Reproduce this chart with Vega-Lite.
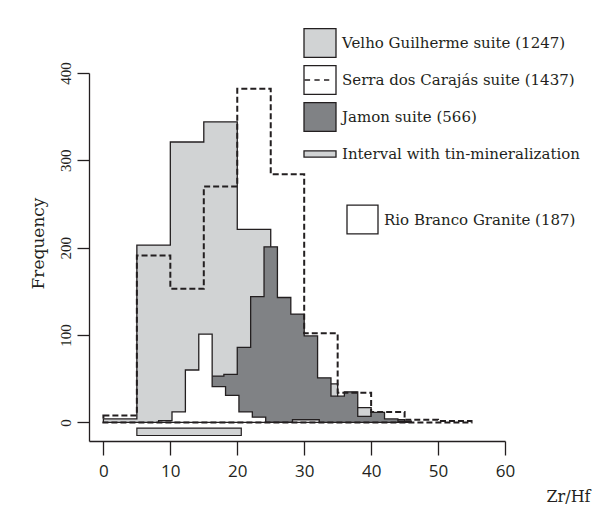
{
  "$schema": "https://vega.github.io/schema/vega-lite/v6.json",
  "width": 416,
  "height": 368,
  "autosize": {"type": "none"},
  "padding": {"left": 89, "top": 73, "right": 88, "bottom": 69},
  "background": "white",
  "config": {
    "view": {"stroke": null},
    "axis": {"grid": false, "domainColor": "#231f20", "tickColor": "#231f20", "domainWidth": 1.3, "tickWidth": 1.3, "labelColor": "#231f20", "titleColor": "#231f20", "titleFontWeight": "normal"}
  },
  "resolve": {"scale": {"fill": "independent"}, "legend": {"fill": "independent"}},
  "data": {
    "values": [
      {"series": "Velho Guilherme suite (1247)", "zrhf": 0, "freq": 4},
      {"series": "Velho Guilherme suite (1247)", "zrhf": 5, "freq": 203},
      {"series": "Velho Guilherme suite (1247)", "zrhf": 10, "freq": 321},
      {"series": "Velho Guilherme suite (1247)", "zrhf": 15, "freq": 344},
      {"series": "Velho Guilherme suite (1247)", "zrhf": 20, "freq": 221},
      {"series": "Velho Guilherme suite (1247)", "zrhf": 25, "freq": 92},
      {"series": "Velho Guilherme suite (1247)", "zrhf": 30, "freq": 44},
      {"series": "Velho Guilherme suite (1247)", "zrhf": 35, "freq": 17},
      {"series": "Velho Guilherme suite (1247)", "zrhf": 40, "freq": 3},
      {"series": "Velho Guilherme suite (1247)", "zrhf": 45, "freq": 3},
      {"series": "Serra dos Carajás suite (1437)", "zrhf": 0, "freq": 8},
      {"series": "Serra dos Carajás suite (1437)", "zrhf": 5, "freq": 191},
      {"series": "Serra dos Carajás suite (1437)", "zrhf": 10, "freq": 153},
      {"series": "Serra dos Carajás suite (1437)", "zrhf": 15, "freq": 270},
      {"series": "Serra dos Carajás suite (1437)", "zrhf": 20, "freq": 382},
      {"series": "Serra dos Carajás suite (1437)", "zrhf": 25, "freq": 284},
      {"series": "Serra dos Carajás suite (1437)", "zrhf": 30, "freq": 102},
      {"series": "Serra dos Carajás suite (1437)", "zrhf": 35, "freq": 34},
      {"series": "Serra dos Carajás suite (1437)", "zrhf": 40, "freq": 12},
      {"series": "Serra dos Carajás suite (1437)", "zrhf": 45, "freq": 3},
      {"series": "Serra dos Carajás suite (1437)", "zrhf": 50, "freq": 1.5},
      {"series": "Serra dos Carajás suite (1437)", "zrhf": 55, "freq": 1.5},
      {"series": "Jamon suite (566)", "zrhf": 12, "freq": 4},
      {"series": "Jamon suite (566)", "zrhf": 14, "freq": 25},
      {"series": "Jamon suite (566)", "zrhf": 16, "freq": 53},
      {"series": "Jamon suite (566)", "zrhf": 18, "freq": 55},
      {"series": "Jamon suite (566)", "zrhf": 20, "freq": 86},
      {"series": "Jamon suite (566)", "zrhf": 22, "freq": 144},
      {"series": "Jamon suite (566)", "zrhf": 24, "freq": 201},
      {"series": "Jamon suite (566)", "zrhf": 26, "freq": 143},
      {"series": "Jamon suite (566)", "zrhf": 28, "freq": 124},
      {"series": "Jamon suite (566)", "zrhf": 30, "freq": 99},
      {"series": "Jamon suite (566)", "zrhf": 32, "freq": 51},
      {"series": "Jamon suite (566)", "zrhf": 34, "freq": 30},
      {"series": "Jamon suite (566)", "zrhf": 36, "freq": 35},
      {"series": "Jamon suite (566)", "zrhf": 38, "freq": 7},
      {"series": "Jamon suite (566)", "zrhf": 40, "freq": 11.5},
      {"series": "Jamon suite (566)", "zrhf": 42, "freq": 4},
      {"series": "Jamon suite (566)", "zrhf": 44, "freq": 1.5},
      {"series": "Jamon suite (566)", "zrhf": 46, "freq": 1.5},
      {"series": "Rio Branco Granite (187)", "zrhf": 8.25, "freq": 2},
      {"series": "Rio Branco Granite (187)", "zrhf": 10.25, "freq": 12},
      {"series": "Rio Branco Granite (187)", "zrhf": 12.25, "freq": 60},
      {"series": "Rio Branco Granite (187)", "zrhf": 14.25, "freq": 101},
      {"series": "Rio Branco Granite (187)", "zrhf": 16.25, "freq": 41},
      {"series": "Rio Branco Granite (187)", "zrhf": 18.25, "freq": 31},
      {"series": "Rio Branco Granite (187)", "zrhf": 20.25, "freq": 12},
      {"series": "Rio Branco Granite (187)", "zrhf": 22.25, "freq": 6},
      {"series": "Rio Branco Granite (187)", "zrhf": 24.25, "freq": 0},
      {"series": "Rio Branco Granite (187)", "zrhf": 26.25, "freq": 0},
      {"series": "Rio Branco Granite (187)", "zrhf": 28.25, "freq": 3},
      {"series": "Rio Branco Granite (187)", "zrhf": 30.25, "freq": 3},
      {"series": "Rio Branco Granite (187)", "zrhf": 32.25, "freq": 3},
      {"series": "Interval with tin-mineralization", "zrhf": 5, "zrhf_end": 20.6}
    ]
  },
  "layer": [
    {
      "transform": [{"filter": "datum.series === 'Velho Guilherme suite (1247)'"}],
      "mark": {"type": "area", "interpolate": "step-after", "stroke": "#231f20", "strokeWidth": 1.3, "fillOpacity": 1},
      "encoding": {
        "x": {"field": "zrhf", "type": "quantitative", "scale": {"domain": [-2.15, 60], "nice": false, "zero": false},
              "axis": {"values": [0, 10, 20, 30, 40, 50, 60], "title": "Zr/Hf", "tickSize": 14, "labelPadding": 8,
                       "labelFont": "Open Sans", "labelFontSize": 17, "labelFlush": false,
                       "titleFont": "DejaVu Serif", "titleFontSize": 16, "titleX": 501, "titleY": 55, "titleAlign": "right", "titleBaseline": "middle", "titleAnchor": null}},
        "y": {"field": "freq", "type": "quantitative", "scale": {"domain": [-21.3, 400], "nice": false, "zero": false},
              "axis": {"values": [0, 100, 200, 300, 400], "title": "Frequency", "tickSize": 12, "labelPadding": 7,
                       "labelAngle": 270, "labelAlign": "center", "labelBaseline": "alphabetic",
                       "labelFont": "Liberation Serif", "labelFontSize": 15, "labelFlush": false,
                       "titleFont": "DejaVu Serif", "titleFontSize": 17, "titleAngle": 270, "titleX": -51, "titleY": 170, "titleAlign": "center", "titleBaseline": "middle", "titleAnchor": null}},
        "y2": {"datum": 0},
        "fill": {"field": "series", "type": "nominal",
                 "scale": {"domain": ["Velho Guilherme suite (1247)", "Serra dos Carajás suite (1437)", "Jamon suite (566)", "Interval with tin-mineralization"],
                           "range": ["#d1d3d4", "#ffffff", "#808285", "#d1d3d4"]},
                 "legend": {
                   "title": null, "orient": "none", "legendX": 214, "legendY": -47, "direction": "vertical", "padding": 0,
                   "rowPadding": 3, "gridAlign": "all", "labelOffset": 5, "symbolSize": 1024, "labelFont": "DejaVu Serif", "labelFontSize": 15, "labelColor": "#231f20", "labelLimit": 400,
                   "symbolType": {"expr": "datum.value === 'Interval with tin-mineralization' ? 'M-1,-0.2H1V0.2H-1Z' : (datum.value === 'Serra dos Carajás suite (1437)' ? 'M-1,-0.9H1V0.9H-1Z M-0.95,0H-0.62 M-0.35,0H-0.02 M0.25,0H0.58' : 'M-1,-0.9H1V0.9H-1Z')"},
                   "symbolStrokeColor": "#231f20",
                   "symbolStrokeWidth": 1.3,
                   "symbolOpacity": 1
                 }}
      }
    },
    {
      "transform": [{"filter": "datum.series === 'Jamon suite (566)'"}],
      "mark": {"type": "area", "interpolate": "step-after", "fill": "#808285", "stroke": "#231f20", "strokeWidth": 1.3, "fillOpacity": 1},
      "encoding": {
        "x": {"field": "zrhf", "type": "quantitative"},
        "y": {"field": "freq", "type": "quantitative"},
        "y2": {"datum": 0}
      }
    },
    {
      "transform": [{"filter": "datum.series === 'Rio Branco Granite (187)'"}],
      "mark": {"type": "area", "interpolate": "step-after", "stroke": "#231f20", "strokeWidth": 1.3, "fillOpacity": 1},
      "encoding": {
        "x": {"field": "zrhf", "type": "quantitative"},
        "y": {"field": "freq", "type": "quantitative"},
        "y2": {"datum": 0},
        "fill": {"field": "series", "type": "nominal",
                 "scale": {"domain": ["Rio Branco Granite (187)"], "range": ["#ffffff"]},
                 "legend": {"title": null, "orient": "none", "legendX": 257, "legendY": 130, "padding": 0,
                            "labelOffset": 5, "symbolSize": 961, "labelFont": "DejaVu Serif", "labelFontSize": 15, "labelColor": "#231f20", "labelLimit": 400,
                            "symbolType": "M-1,-0.93H1V0.93H-1Z",
                            "symbolStrokeColor": "#231f20",
                            "symbolStrokeWidth": 1.3,
                            "symbolOpacity": 1}}
      }
    },
    {
      "transform": [{"filter": "datum.series === 'Serra dos Carajás suite (1437)'"}],
      "mark": {"type": "area", "interpolate": "step-after", "fill": "transparent", "stroke": "#231f20", "strokeWidth": 2, "strokeDash": [6, 3]},
      "encoding": {
        "x": {"field": "zrhf", "type": "quantitative"},
        "y": {"field": "freq", "type": "quantitative"},
        "y2": {"datum": 0}
      }
    },
    {
      "transform": [{"filter": "datum.series === 'Interval with tin-mineralization'"}],
      "mark": {"type": "rect", "fill": "#d1d3d4", "stroke": "#231f20", "strokeWidth": 1.2},
      "encoding": {
        "x": {"field": "zrhf", "type": "quantitative"},
        "x2": {"field": "zrhf_end"},
        "y": {"datum": -6.5},
        "y2": {"datum": -15}
      }
    }
  ]
}
